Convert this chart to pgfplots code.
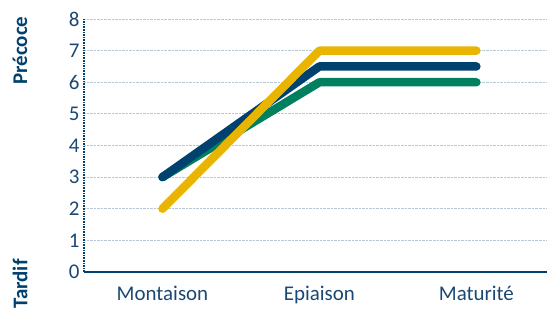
\documentclass[border=0pt]{standalone}
\usepackage{pgfplots}
\pgfplotsset{compat=1.18}
\usepackage{fontspec}
\setmainfont{Carlito}
\definecolor{dblue}{HTML}{00416F}
\definecolor{dgreen}{HTML}{00805E}
\definecolor{dyellow}{HTML}{EAB500}
\definecolor{txt}{HTML}{1A4873}
\definecolor{gridc}{HTML}{B8C7D8}
\begin{document}
\begin{tikzpicture}
\begin{axis}[
  scale only axis,
  width=463bp, height=253bp,
  xmin=-0.5, xmax=2.45,
  ymin=0, ymax=8,
  xtick={0,1,2},
  xticklabels={Montaison,Epiaison,Maturité},
  ytick={0,1,...,8},
  axis x line=bottom,
  axis y line=left,
  axis line style={-, draw=dblue},
  x axis line style={line width=1.6bp},
  y axis line style={line width=1.6bp, densely dotted},
  major tick length=0pt,
  ymajorgrids,
  major grid style={gridc, densely dotted, line width=0.9bp},
  tick label style={font=\fontsize{21}{24}\selectfont, text=txt},
  /pgf/number format/assume math mode=true,
  yticklabel style={xshift=-1bp},
  xticklabel style={yshift=-11bp},
  clip=false,
]
\addplot[dgreen, line width=8.5bp, line cap=round, line join=round] coordinates {(0,3) (1,6) (2,6)};
\addplot[dblue, line width=8.5bp, line cap=round, line join=round] coordinates {(0,3) (1,6.5) (2,6.5)};
\addplot[dyellow, line width=8.5bp, line cap=round, line join=round] coordinates {(0,2) (1,7) (2,7)};
\coordinate (ll) at (rel axis cs:0,0);
\coordinate (ur) at (rel axis cs:1,1);
\node[rotate=90, font=\fontsize{21}{24}\selectfont\bfseries, text=dblue] at ([xshift=-64bp]rel axis cs:0,0.875) {Précoce};
\node[rotate=90, font=\fontsize{21}{24}\selectfont\bfseries, text=dblue] at ([xshift=-64bp,yshift=-12bp]rel axis cs:0,0) {Tardif};
\end{axis}
\pgfresetboundingbox
\path ([xshift=-84bp,yshift=-39bp]ll) rectangle ([yshift=19bp]ur);
\end{tikzpicture}
\end{document}
